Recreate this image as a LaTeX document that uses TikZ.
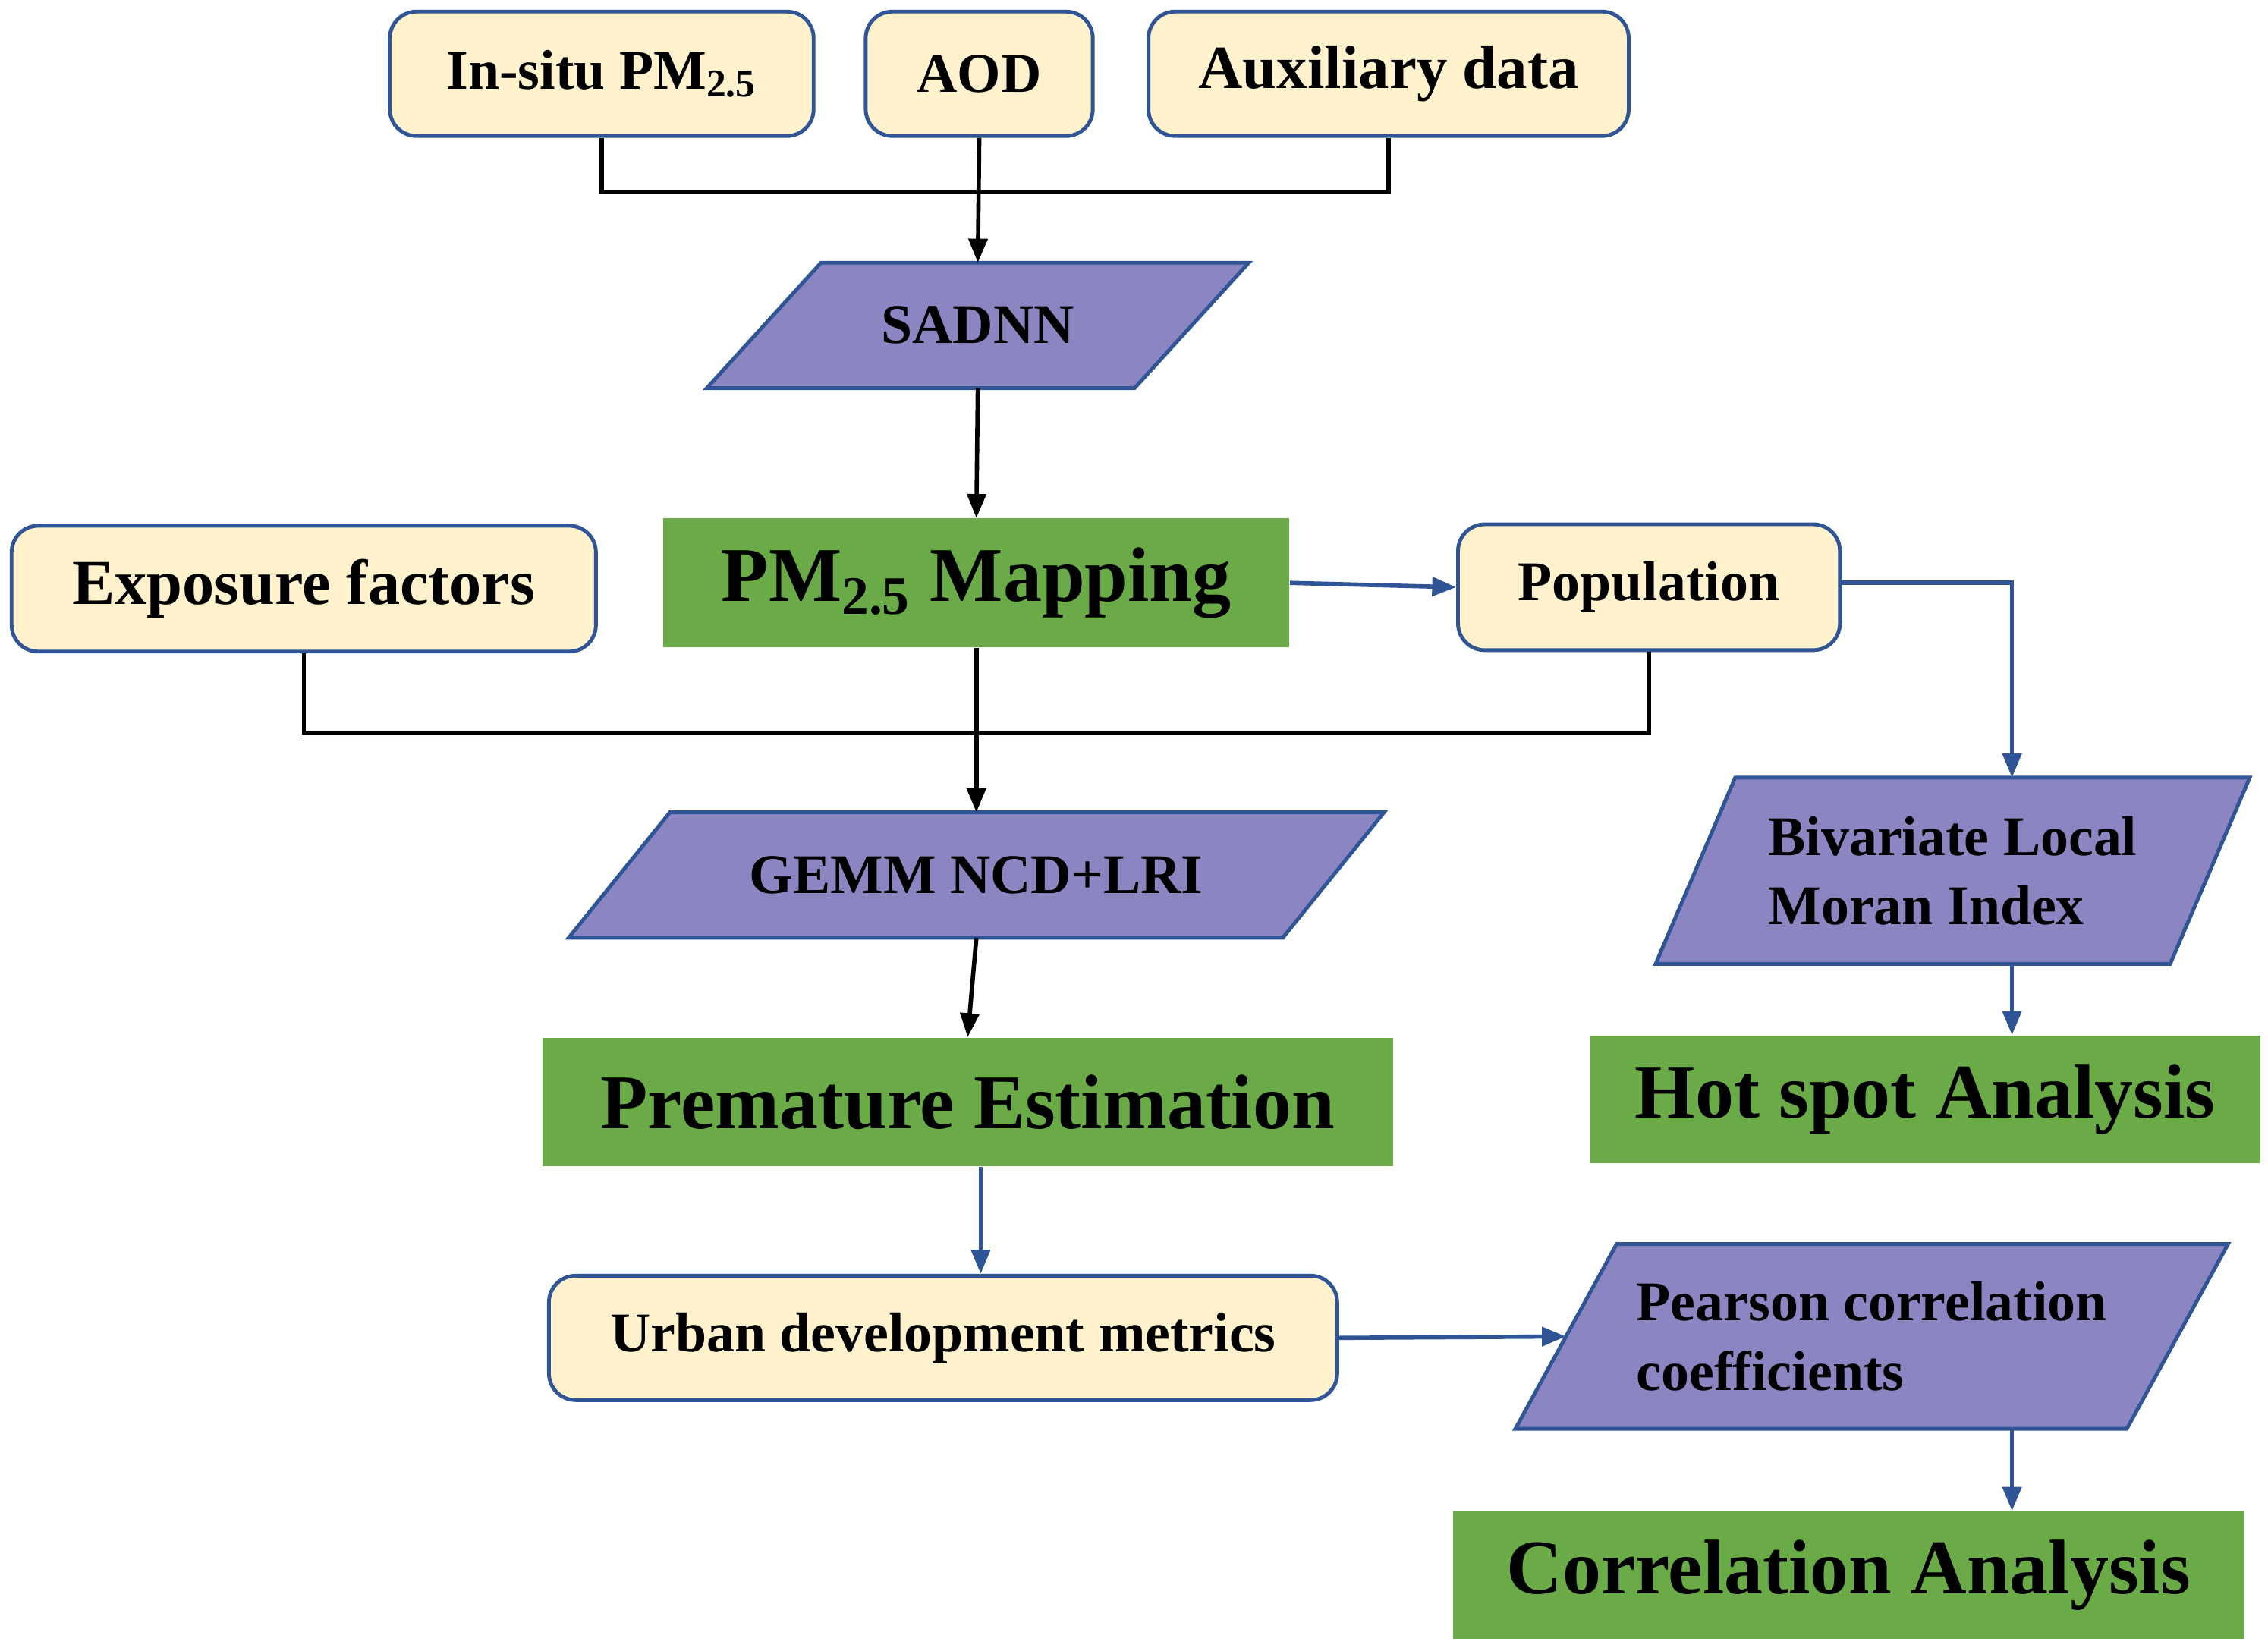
\documentclass[tikz,border=0pt]{standalone}
\usepackage{fontspec}
\setmainfont{Liberation Serif}
\usetikzlibrary{arrows.meta}
\usetikzlibrary{backgrounds}
\usetikzlibrary{calc}
\usetikzlibrary{positioning}
\definecolor{boxfill}{HTML}{FFF2CC}
\definecolor{edgeblue}{HTML}{2F5597}
\definecolor{parafill}{HTML}{8B86C1}
\definecolor{stepgreen}{HTML}{6AAB47}
\def\px{0.01906cm}

\begin{document}
\begin{tikzpicture}
  [
    x = 0.01906cm, y = -0.01906cm,
    node/.style = {font = \bfseries, inner sep = 0pt, align = center},
    data/.style = {node, draw = edgeblue, line width = 1.4pt, fill = boxfill,
                  rounded corners = 10pt, font = \fontsize{21}{24}\selectfont\bfseries},
    para/.style = {node, font = \fontsize{21}{26}\selectfont\bfseries},
    result/.style = {node, fill = stepgreen, font = \fontsize{29}{32}\selectfont\bfseries},
    link/.style = {line width = 1.6pt, black},
    arrow/.style = {link, -{Triangle[length=9pt, width=7pt]}},
    barrow/.style = {arrow, edgeblue},
  ]
  \useasboundingbox (0,0) rectangle (1568,1141);

  % inputs
  \node[data, minimum width = 293*\px, minimum height = 86*\px] (insitu) at (416,51) {In-situ PM\textsubscript{2.5}};
  \node[data, minimum width = 157*\px, minimum height = 86*\px] (aod) at (677,51) {AOD};
  \node[data, minimum width = 332*\px, minimum height = 86*\px,
        font = \fontsize{23}{26}\selectfont\bfseries] (aux) at (960,51) {Auxiliary data};

  \node[para, minimum width = 374*\px, minimum height = 86*\px] (sadnn) at (676,225) {SADNN};
  \node[result, minimum width = 433*\px, minimum height = 89*\px] (pm) at (675,403) {PM\textsubscript{2.5} Mapping};
  \node[data, minimum width = 404*\px, minimum height = 87*\px,
        font = \fontsize{24}{27}\selectfont\bfseries] (expo) at (210,407) {Exposure factors};
  \node[data, minimum width = 264*\px, minimum height = 87*\px] (pop) at (1140,406) {Population};
  \node[para, minimum width = 563*\px, minimum height = 86*\px] (gemm) at (675,605) {GEMM NCD+LRI};
  \node[result, minimum width = 588*\px, minimum height = 89*\px] (prem) at (669,762) {Premature Estimation};
  \node[para, minimum width = 410*\px, minimum height = 128*\px, align = left] (biv) at (1350,602) {Bivariate Local\\Moran Index};
  \node[result, minimum width = 463*\px, minimum height = 88*\px] (hot) at (1331,760) {Hot spot Analysis};
  \node[data, minimum width = 545*\px, minimum height = 86*\px] (urban) at (652,925) {Urban development metrics};
  \node[para, minimum width = 492*\px, minimum height = 127*\px, align = left] (pear) at (1294,924) {Pearson correlation\\coefficients};
  \node[result, minimum width = 547*\px, minimum height = 88*\px] (corr) at (1278,1089) {Correlation Analysis};

  % slanted boxes
  \begin{scope}[on background layer]
    \foreach \n/\s in {sadnn/79, gemm/70, biv/55, pear/70}
      \filldraw[fill = parafill, draw = edgeblue, line width = 1.4pt]
        ($(\n.north west)+(\s,0)$) -- (\n.north east) -- ($(\n.south east)-(\s,0)$)
        -- (\n.south west) -- cycle;
  \end{scope}

  % black links
  \coordinate (j1) at (677,133);
  \draw[link] (insitu.south) |- (j1) -| (aux.south);
  \draw[arrow] (aod.south) -- (sadnn.north);
  \draw[arrow] (sadnn.south) -- (pm.north);
  \coordinate (j2) at (675,507);
  \draw[link] (expo.south) |- (j2) -| (pop.south);
  \draw[arrow] (pm.south) -- (gemm.north);
  \draw[arrow] (gemm.south) -- (prem.north);

  % blue links
  \draw[barrow] (pm.east) -- (pop.west);
  \coordinate (j3) at (1391,403);
  \coordinate (j4) at (678,0);
  \draw[barrow] (pop.east |- j3) -- (j3) -- (j3 |- biv.north);
  \draw[barrow] (j3 |- biv.south) -- (j3 |- hot.north);
  \draw[barrow] (j4 |- prem.south) -- (j4 |- urban.north);
  \draw[barrow] (urban.east) -- ($(pear.west)+(35,0)$);
  \draw[barrow] (j3 |- pear.south) -- (j3 |- corr.north);
\end{tikzpicture}
\end{document}
